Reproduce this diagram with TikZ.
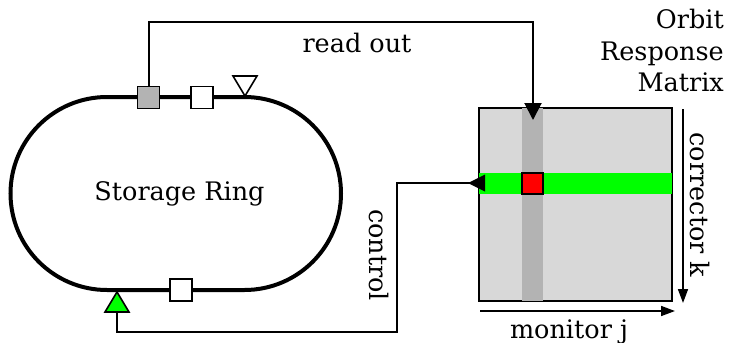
\documentclass[tikz,border=0pt]{standalone}
\usepackage{fontspec}
\setmainfont{DejaVu Serif}
\usetikzlibrary{arrows.meta}
\definecolor{mgray}{HTML}{D8D8D8}
\definecolor{colgray}{HTML}{B3B3B3}
\definecolor{sqgray}{HTML}{B3B3B3}
\definecolor{bright}{HTML}{00FF00}
\begin{document}
\begin{tikzpicture}[x=1pt,y=-1pt,
  font=\fontsize{25.5}{31.5}\selectfont,
  conn/.style={line width=2pt},
  bigtip/.style={-{Triangle[length=17pt,width=17pt]}},
  axis/.style={line width=1.6pt,-{Triangle[length=14pt,width=10pt]}},
  marker/.style={draw,line width=1.6pt,minimum size=22pt,inner sep=0pt}]
\useasboundingbox (0,0) rectangle (729,343);
% storage ring
\node[draw,line width=4pt,rounded corners=96.5pt,minimum width=330.5pt,minimum height=193pt,inner sep=0pt] (ring) at (175.75,193.5) {};
\node[anchor=base] (ringlabel) at (179.5,200) {Storage Ring};
% markers on the ring
\node[marker,fill=sqgray] (gs) at (148.5,97.5) {};
\node[marker,fill=white] (ws1) at (202,97.5) {};
\node[marker,fill=white] (ws2) at (181,290) {};
\draw[line width=1.6pt,fill=white,line join=miter] (233,76) -- (257,76) -- (245,96) -- cycle;
\draw[line width=1.6pt,fill=bright,line join=miter] (105,312) -- (129,312) -- (117,292) -- cycle;
\coordinate (gt) at (117,312);
% matrix
\node[draw,fill=mgray,line width=2pt,minimum size=193pt,inner sep=0pt] (M) at (575.5,204.5) {};
\fill[colgray] (522,108) rectangle (543,301);
\fill[bright] (479,173) rectangle (672,194);
\draw[fill=red,line width=1.2pt] (522,173) rectangle (543,194);
% read out
\coordinate (ro) at (533,120);
\draw[conn,bigtip] (gs.north) |- (533,22) -- (ro);
\node[anchor=base] (rolabel) at (357,52) {read out};
% control
\coordinate (ct) at (485,183);
\draw[conn] (ct) -- (397,183) |- (117,332) -- (gt);
\fill (485,174.5) -- (468,183) -- (485,191.5) -- cycle;
\node[rotate=-90] (ctlabel) at (379,255) {control};
% axes
\coordinate (ca) at (683,109);
\coordinate (cb) at (683,303);
\draw[axis] (ca) -- (cb);
\node[rotate=-90] (cklabel) at (700,205) {corrector k};
\coordinate (ma) at (480,311);
\coordinate (mb) at (675,311);
\draw[axis] (ma) -- (mb);
\node[anchor=base] (mjlabel) at (569,338) {monitor j};
\node[anchor=north east,align=right,inner sep=0pt] (orm) at (724,9) {Orbit\\Response\\Matrix};
\end{tikzpicture}
\end{document}
